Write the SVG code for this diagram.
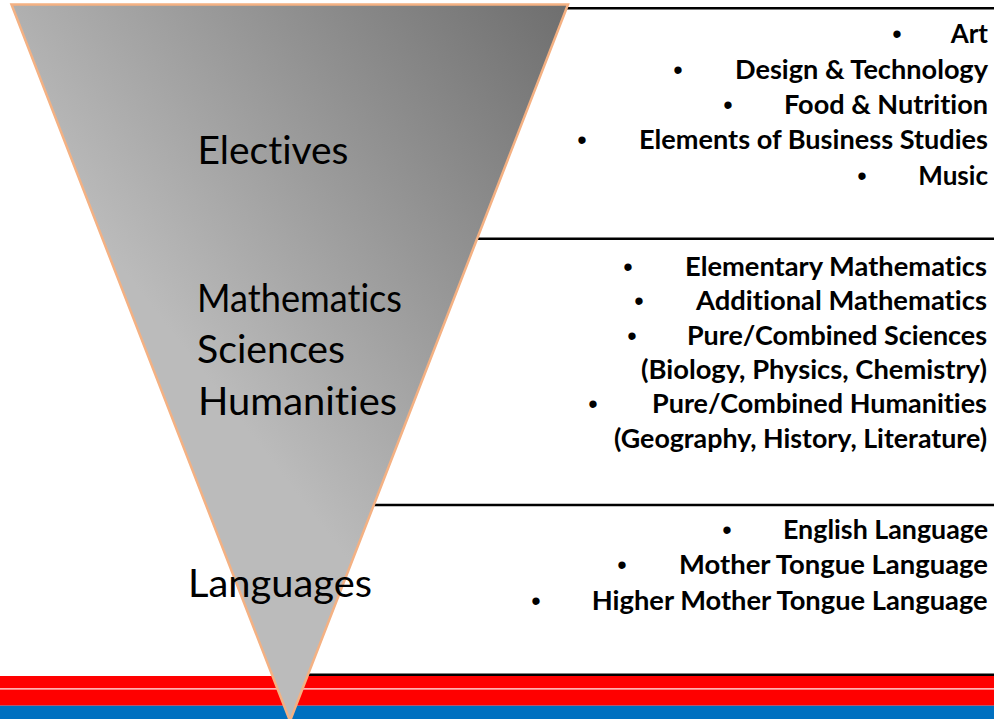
<svg xmlns="http://www.w3.org/2000/svg" width="994" height="719" viewBox="0 0 994 719">
  <defs>
    <linearGradient id="triFill" gradientUnits="userSpaceOnUse" x1="565" y1="8" x2="162" y2="320">
      <stop offset="0" stop-color="#6F6F6F"/>
      <stop offset="1" stop-color="#BBBBBB"/>
    </linearGradient>
    <style>
      text { font-variant-ligatures: none; }
      .label { font-family: Lato, "Liberation Sans", sans-serif; font-size: 38px; fill: #000; }
      .item { font-family: Lato, "Liberation Sans", sans-serif; font-size: 26.5px; font-weight: bold; fill: #000; }
      .bullet { font-family: "Liberation Sans", Arial, sans-serif; font-size: 27px; fill: #000; text-anchor: middle; }
      .sep { stroke: #000; stroke-width: 2.5; fill: none; }
    </style>
  </defs>
  <rect width="994" height="719" fill="#FFFFFF"/>

  <g id="stripes">
    <rect x="0" y="676" width="994" height="12.3" fill="#FF0000"/>
    <rect x="0" y="689.5" width="994" height="16.2" fill="#FF0000"/>
    <rect x="0" y="705.7" width="994" height="13.3" fill="#0070C0"/>
  </g>

  <g id="connectors">
    <line class="sep" x1="300" y1="8.3" x2="994" y2="8.3"/>
    <line class="sep" x1="300" y1="238.7" x2="994" y2="238.7"/>
    <line class="sep" x1="300" y1="505" x2="994" y2="505"/>
    <line class="sep" x1="290" y1="674.8" x2="994" y2="674.8" stroke-width="2"/>
  </g>

  <g id="funnel">
    <polygon points="11.5,4.5 568,4.5 290,721" fill="url(#triFill)" stroke="#F4B183" stroke-width="2.5"/>
  </g>

  <g id="label-electives">
    <text class="label" x="197.5" y="164" textLength="151" lengthAdjust="spacingAndGlyphs">Electives</text>
  </g>
  <g id="label-core">
    <text class="label" x="197" y="311.7" textLength="205" lengthAdjust="spacingAndGlyphs">Mathematics</text>
    <text class="label" x="197" y="362.7" textLength="148" lengthAdjust="spacingAndGlyphs">Sciences</text>
    <text class="label" x="198" y="415" textLength="199" lengthAdjust="spacingAndGlyphs">Humanities</text>
  </g>
  <g id="label-languages">
    <text class="label" x="188" y="597" textLength="184" lengthAdjust="spacingAndGlyphs">Languages</text>
  </g>

  <g id="list-electives">
    <text class="bullet" x="897" y="43.3">•</text>
    <text class="item" x="950.7" y="43.3" textLength="37.3" lengthAdjust="spacingAndGlyphs">Art</text>
    <text class="bullet" x="678" y="78.6">•</text>
    <text class="item" x="735" y="78.6" textLength="253" lengthAdjust="spacingAndGlyphs">Design &amp; Technology</text>
    <text class="bullet" x="728" y="113.9">•</text>
    <text class="item" x="784" y="113.9" textLength="204" lengthAdjust="spacingAndGlyphs">Food &amp; Nutrition</text>
    <text class="bullet" x="582" y="149.2">•</text>
    <text class="item" x="639" y="149.2" textLength="349" lengthAdjust="spacingAndGlyphs">Elements of Business Studies</text>
    <text class="bullet" x="862" y="184.5">•</text>
    <text class="item" x="918.3" y="184.5" textLength="69.7" lengthAdjust="spacingAndGlyphs">Music</text>
  </g>

  <g id="list-core">
    <text class="bullet" x="628" y="275.7">•</text>
    <text class="item" x="685" y="275.7" textLength="302" lengthAdjust="spacingAndGlyphs">Elementary Mathematics</text>
    <text class="bullet" x="639" y="310.1">•</text>
    <text class="item" x="696" y="310.1" textLength="291" lengthAdjust="spacingAndGlyphs">Additional Mathematics</text>
    <text class="bullet" x="632" y="344.5">•</text>
    <text class="item" x="687" y="344.5" textLength="300" lengthAdjust="spacingAndGlyphs">Pure/Combined Sciences</text>
    <text class="item" x="641" y="378.9" textLength="346" lengthAdjust="spacingAndGlyphs">(Biology, Physics, Chemistry)</text>
    <text class="bullet" x="593" y="413.3">•</text>
    <text class="item" x="652" y="413.3" textLength="335" lengthAdjust="spacingAndGlyphs">Pure/Combined Humanities</text>
    <text class="item" x="614" y="447.7" textLength="373" lengthAdjust="spacingAndGlyphs">(Geography, History, Literature)</text>
  </g>

  <g id="list-languages">
    <text class="bullet" x="727" y="538.5">•</text>
    <text class="item" x="783" y="538.5" textLength="205" lengthAdjust="spacingAndGlyphs">English Language</text>
    <text class="bullet" x="622" y="574">•</text>
    <text class="item" x="679" y="574" textLength="309" lengthAdjust="spacingAndGlyphs">Mother Tongue Language</text>
    <text class="bullet" x="536" y="609.5">•</text>
    <text class="item" x="591.7" y="609.5" textLength="396" lengthAdjust="spacingAndGlyphs">Higher Mother Tongue Language</text>
  </g>
</svg>
